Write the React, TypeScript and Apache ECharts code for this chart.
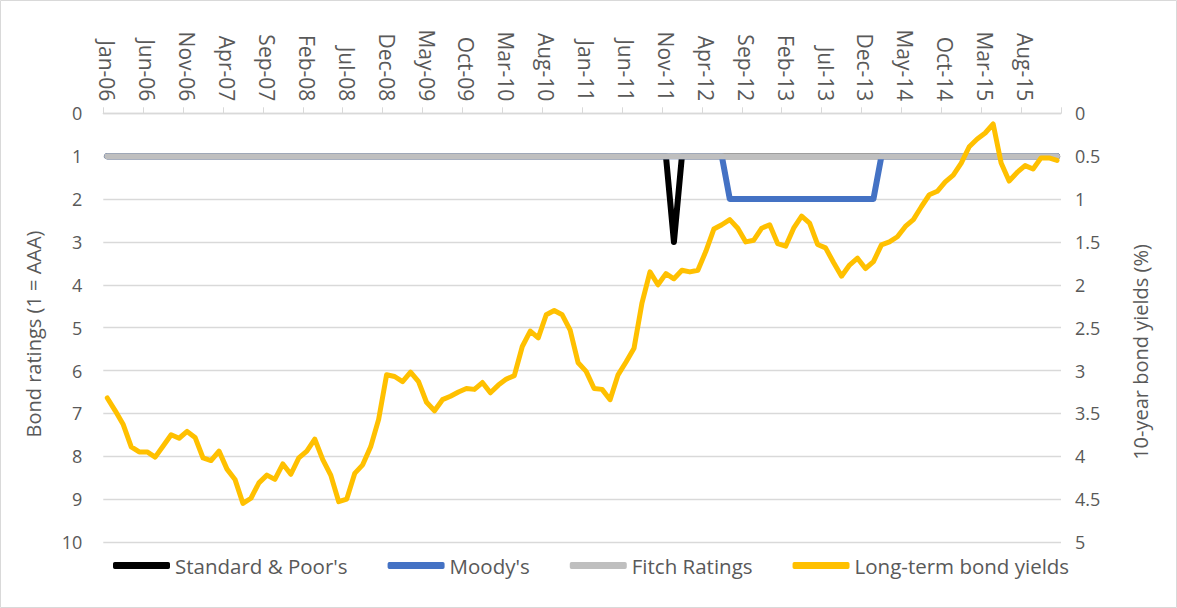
import React, { useEffect, useRef } from "react";
import * as echarts from "echarts";

const monthNames = ["Jan", "Feb", "Mar", "Apr", "May", "Jun", "Jul", "Aug", "Sep", "Oct", "Nov", "Dec"];
const years = ["06", "07", "08", "09", "10", "11", "12", "13", "14", "15"];
const categories: string[] = [];
years.forEach((y) => monthNames.forEach((m) => categories.push(`${m}-${y}`)));

// Ratings (1 = AAA), one row per year 2006..2015
const sp = [
  1, 1, 1, 1, 1, 1, 1, 1, 1, 1, 1, 1,
  1, 1, 1, 1, 1, 1, 1, 1, 1, 1, 1, 1,
  1, 1, 1, 1, 1, 1, 1, 1, 1, 1, 1, 1,
  1, 1, 1, 1, 1, 1, 1, 1, 1, 1, 1, 1,
  1, 1, 1, 1, 1, 1, 1, 1, 1, 1, 1, 1,
  1, 1, 1, 1, 1, 1, 1, 1, 1, 1, 1, 3,
  1, 1, 1, 1, 1, 1, 1, 1, 1, 1, 1, 1,
  1, 1, 1, 1, 1, 1, 1, 1, 1, 1, 1, 1,
  1, 1, 1, 1, 1, 1, 1, 1, 1, 1, 1, 1,
  1, 1, 1, 1, 1, 1, 1, 1, 1, 1, 1, 1,
];
const moodys = [
  1, 1, 1, 1, 1, 1, 1, 1, 1, 1, 1, 1,
  1, 1, 1, 1, 1, 1, 1, 1, 1, 1, 1, 1,
  1, 1, 1, 1, 1, 1, 1, 1, 1, 1, 1, 1,
  1, 1, 1, 1, 1, 1, 1, 1, 1, 1, 1, 1,
  1, 1, 1, 1, 1, 1, 1, 1, 1, 1, 1, 1,
  1, 1, 1, 1, 1, 1, 1, 1, 1, 1, 1, 1,
  1, 1, 1, 1, 1, 1, 2, 2, 2, 2, 2, 2,
  2, 2, 2, 2, 2, 2, 2, 2, 2, 2, 2, 2,
  2, 1, 1, 1, 1, 1, 1, 1, 1, 1, 1, 1,
  1, 1, 1, 1, 1, 1, 1, 1, 1, 1, 1, 1,
];
const fitch = [
  1, 1, 1, 1, 1, 1, 1, 1, 1, 1, 1, 1,
  1, 1, 1, 1, 1, 1, 1, 1, 1, 1, 1, 1,
  1, 1, 1, 1, 1, 1, 1, 1, 1, 1, 1, 1,
  1, 1, 1, 1, 1, 1, 1, 1, 1, 1, 1, 1,
  1, 1, 1, 1, 1, 1, 1, 1, 1, 1, 1, 1,
  1, 1, 1, 1, 1, 1, 1, 1, 1, 1, 1, 1,
  1, 1, 1, 1, 1, 1, 1, 1, 1, 1, 1, 1,
  1, 1, 1, 1, 1, 1, 1, 1, 1, 1, 1, 1,
  1, 1, 1, 1, 1, 1, 1, 1, 1, 1, 1, 1,
  1, 1, 1, 1, 1, 1, 1, 1, 1, 1, 1, 1,
];
// 10-year bond yields (%)
const yields = [
  3.32, 3.47, 3.63, 3.89, 3.95, 3.95, 4.01, 3.88, 3.75, 3.79, 3.71, 3.78,
  4.02, 4.05, 3.94, 4.15, 4.27, 4.55, 4.49, 4.31, 4.22, 4.27, 4.09, 4.21,
  4.02, 3.94, 3.8, 4.04, 4.22, 4.53, 4.5, 4.2, 4.1, 3.89, 3.57, 3.05,
  3.07, 3.13, 3.02, 3.13, 3.37, 3.47, 3.34, 3.3, 3.25, 3.21, 3.22, 3.14,
  3.26, 3.17, 3.1, 3.06, 2.72, 2.54, 2.62, 2.35, 2.3, 2.35, 2.53, 2.91,
  3.01, 3.21, 3.22, 3.34, 3.05, 2.9, 2.74, 2.21, 1.85, 2.0, 1.87, 1.93,
  1.83, 1.85, 1.83, 1.61, 1.35, 1.3, 1.24, 1.34, 1.5, 1.48, 1.34, 1.3,
  1.52, 1.55, 1.34, 1.2, 1.28, 1.53, 1.57, 1.74, 1.9, 1.77, 1.69, 1.81,
  1.73, 1.535, 1.5, 1.44, 1.32, 1.24, 1.09, 0.95, 0.91, 0.8, 0.72, 0.58,
  0.39, 0.3, 0.23, 0.125, 0.58, 0.79, 0.69, 0.61, 0.65, 0.52, 0.52, 0.55,
];

const leftTitle = "Bond ratings (1 = AAA)";
const rightTitle = "10-year bond yields (%)";

const FONT = "'Open Sans', sans-serif";
const TXT = "#595959";
const GRID = "#d9d9d9";

export default function App() {
  const ref = useRef<HTMLDivElement>(null);
  useEffect(() => {
    if (!ref.current) return;
    const chart = echarts.init(ref.current, undefined, { renderer: "svg" });
    const lineSeries = (name: string, data: number[], color: string, width: number, yAxisIndex = 0) => ({
      name,
      type: "line",
      data,
      yAxisIndex,
      symbol: "none",
      showSymbol: false,
      lineStyle: { color, width, cap: "round", join: "round" },
      itemStyle: { color },
    });
    chart.setOption({
      animation: false,
      textStyle: { fontFamily: FONT, color: TXT },
      grid: { left: 103.3, right: 116, top: 113.3, bottom: 66, containLabel: false },
      graphic: [
        {
          type: "rect",
          shape: { x: 0.5, y: 0.5, width: 1176, height: 607 },
          style: { fill: "none", stroke: GRID, lineWidth: 1 },
          silent: true,
        },
        {
          type: "text",
          x: 33,
          y: 334,
          rotation: Math.PI / 2,
          style: {
            text: leftTitle,
            fill: TXT,
            font: `20px ${FONT}`,
            align: "center",
            verticalAlign: "middle",
          },
          silent: true,
        },
        {
          type: "text",
          x: 1140,
          y: 352,
          rotation: Math.PI / 2,
          style: {
            text: rightTitle,
            fill: TXT,
            font: `20px ${FONT}`,
            align: "center",
            verticalAlign: "middle",
          },
          silent: true,
        },
      ],
      legend: {
        left: 113,
        top: 555,
        padding: 0,
        itemWidth: 57,
        itemHeight: 7,
        itemGap: 40,
        icon: "roundRect",
        textStyle: { fontFamily: FONT, color: TXT, fontSize: 20.5 },
        data: ["Standard & Poor's", "Moody's", "Fitch Ratings", "Long-term bond yields"],
      },
      xAxis: {
        type: "category",
        data: categories,
        position: "top",
        boundaryGap: true,
        axisLine: { show: true, onZero: false, lineStyle: { color: GRID, width: 1.3 } },
        axisTick: { show: true, interval: 4, length: 6, lineStyle: { color: GRID } },
        axisLabel: {
          interval: 4,
          rotate: 90,
          margin: 12,
          fontSize: 21,
          fontFamily: FONT,
          color: TXT,
        },
        splitLine: { show: false },
      },
      yAxis: [
        {
          type: "value",
          inverse: true,
          min: 0,
          max: 10,
          interval: 1,
          axisLine: { show: false },
          axisTick: { show: false },
          axisLabel: { margin: 21, fontSize: 18, color: TXT, fontFamily: FONT },
          splitLine: { show: true, lineStyle: { color: GRID, width: 1.3 } },
        },
        {
          type: "value",
          inverse: true,
          min: 0,
          max: 5,
          interval: 0.5,
          position: "right",
          axisLine: { show: false },
          axisTick: { show: false },
          axisLabel: { margin: 14, fontSize: 18, color: TXT, fontFamily: FONT },
          splitLine: { show: false },
        },
      ],
      series: [
        lineSeries("Standard & Poor's", sp, "#000000", 6),
        lineSeries("Moody's", moodys, "#4472C4", 6),
        lineSeries("Fitch Ratings", fitch, "#BFBFBF", 6),
        lineSeries("Long-term bond yields", yields, "#FFC000", 5, 1),
      ],
    });
    return () => chart.dispose();
  }, []);
  return (
    <div
      ref={ref}
      style={{ position: "absolute", left: 0, top: 0, width: 1177, height: 608, background: "#fff" }}
    />
  );
}
